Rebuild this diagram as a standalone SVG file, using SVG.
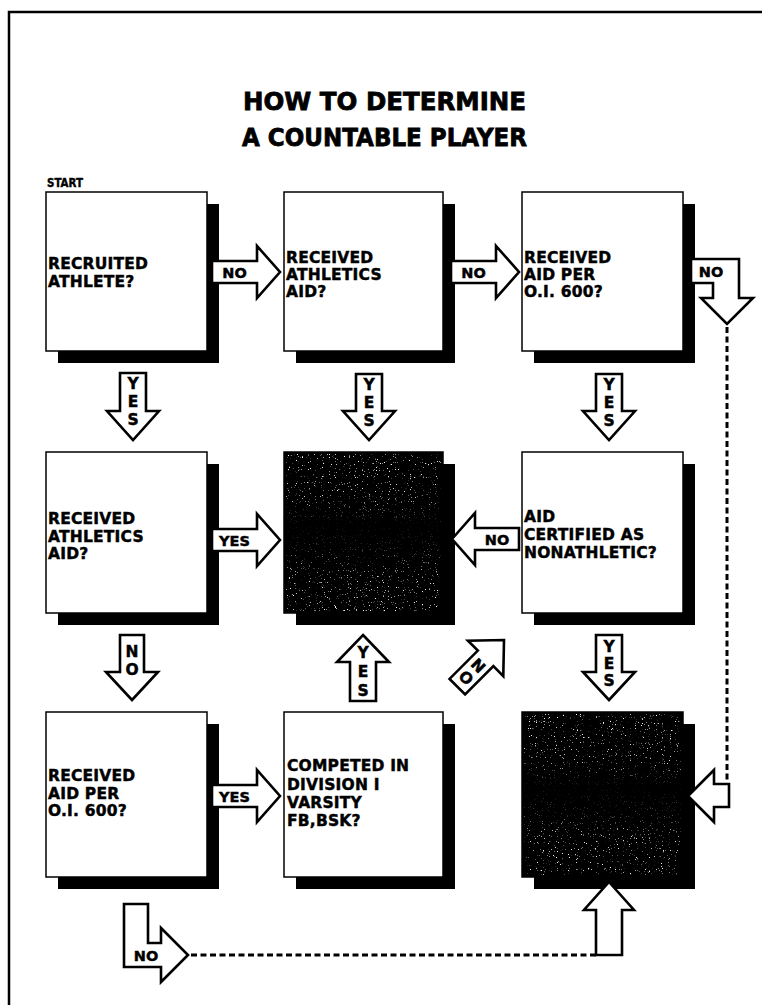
<svg xmlns="http://www.w3.org/2000/svg" width="762" height="1005" viewBox="0 0 762 1005">
<style>
  .t{font-family:"DejaVu Sans","Liberation Sans",sans-serif;font-weight:bold;fill:#000;stroke:#000;stroke-width:0.45}
  .title{font-size:25px;text-anchor:middle;stroke-width:0.8}
  .lbl{font-size:15.5px;letter-spacing:0.2px}
  .al{font-size:14.5px;text-anchor:middle}
  .vl{font-size:15.5px;text-anchor:middle}
  .box{fill:#fff;stroke:#000;stroke-width:1.5}
  .shadow{fill:#000}
  .dark{fill:#000;stroke:#000;stroke-width:1.5}
  .arrow{fill:#fff;stroke:#000;stroke-width:2.6;stroke-linejoin:miter}
  .dash{fill:none;stroke:#000;stroke-width:3;stroke-dasharray:6 3.5}
  .frame{fill:none;stroke:#000;stroke-width:2.5}
</style>
<defs>
  <filter id="speck" x="0" y="0" width="100%" height="100%" filterUnits="objectBoundingBox">
    <feTurbulence type="fractalNoise" baseFrequency="0.85" numOctaves="2" seed="7"/>
    <feColorMatrix type="matrix" values="0 0 0 0 1  0 0 0 0 1  0 0 0 0 1  9 0 0 0 -6.0"/>
  </filter>
  <linearGradient id="band" x1="0" y1="0" x2="0" y2="1">
    <stop offset="0" stop-color="#000" stop-opacity="0"/>
    <stop offset="0.3" stop-color="#000" stop-opacity="0.2"/>
    <stop offset="0.45" stop-color="#000" stop-opacity="0.95"/>
    <stop offset="0.6" stop-color="#000" stop-opacity="0.7"/>
    <stop offset="0.8" stop-color="#000" stop-opacity="0.1"/>
    <stop offset="1" stop-color="#000" stop-opacity="0"/>
  </linearGradient>
</defs>
<rect x="0" y="0" width="762" height="1005" fill="#fff"/>
<path class="frame" d="M9 1005 V12 H762"/>

<g id="title">
  <text class="t title" x="384.5" y="110" textLength="283" lengthAdjust="spacingAndGlyphs">HOW TO DETERMINE</text>
  <text class="t title" x="384.5" y="146" textLength="285" lengthAdjust="spacingAndGlyphs">A COUNTABLE PLAYER</text>
</g>
<g id="start">
  <text class="t" x="47" y="187" font-size="13" textLength="36" lengthAdjust="spacingAndGlyphs">START</text>
</g>

<g id="n1">
  <rect class="shadow" x="58" y="204" width="161" height="159"/>
  <rect class="box" x="46" y="192" width="161" height="159"/>
  <text class="t lbl" x="48" y="269">RECRUITED</text>
  <text class="t lbl" x="48" y="287">ATHLETE?</text>
</g>
<g id="n2">
  <rect class="shadow" x="296" y="204" width="159" height="159"/>
  <rect class="box" x="284" y="192" width="159" height="159"/>
  <text class="t lbl" x="286" y="263">RECEIVED</text>
  <text class="t lbl" x="286" y="280">ATHLETICS</text>
  <text class="t lbl" x="286" y="297">AID?</text>
</g>
<g id="n3">
  <rect class="shadow" x="534" y="204" width="161" height="159"/>
  <rect class="box" x="522" y="192" width="161" height="159"/>
  <text class="t lbl" x="524" y="263">RECEIVED</text>
  <text class="t lbl" x="524" y="280">AID PER</text>
  <text class="t lbl" x="524" y="297">O.I. 600?</text>
</g>
<g id="n4">
  <rect class="shadow" x="58" y="464" width="161" height="161"/>
  <rect class="box" x="46" y="452" width="161" height="161"/>
  <text class="t lbl" x="48" y="524">RECEIVED</text>
  <text class="t lbl" x="48" y="542">ATHLETICS</text>
  <text class="t lbl" x="48" y="559">AID?</text>
</g>
<g id="n5">
  <rect class="shadow" x="296" y="464" width="159" height="161"/>
  <rect class="dark" x="284" y="452" width="159" height="161"/>
  <rect x="286" y="454" width="155" height="157" filter="url(#speck)"/>
  <rect x="286" y="454" width="155" height="157" fill="url(#band)"/>
</g>
<g id="n6">
  <rect class="shadow" x="534" y="464" width="161" height="161"/>
  <rect class="box" x="522" y="452" width="161" height="161"/>
  <text class="t lbl" x="524" y="522">AID</text>
  <text class="t lbl" x="524" y="540">CERTIFIED AS</text>
  <text class="t lbl" x="524" y="558">NONATHLETIC?</text>
</g>
<g id="n7">
  <rect class="shadow" x="58" y="724" width="161" height="165"/>
  <rect class="box" x="46" y="712" width="161" height="165"/>
  <text class="t lbl" x="48" y="781">RECEIVED</text>
  <text class="t lbl" x="48" y="799">AID PER</text>
  <text class="t lbl" x="48" y="816">O.I. 600?</text>
</g>
<g id="n8">
  <rect class="shadow" x="296" y="724" width="159" height="165"/>
  <rect class="box" x="284" y="712" width="159" height="165"/>
  <text class="t lbl" x="287" y="771">COMPETED IN</text>
  <text class="t lbl" x="287" y="790">DIVISION I</text>
  <text class="t lbl" x="287" y="808">VARSITY</text>
  <text class="t lbl" x="287" y="826">FB,BSK?</text>
</g>
<g id="n9">
  <rect class="shadow" x="534" y="724" width="161" height="165"/>
  <rect class="dark" x="522" y="712" width="161" height="165"/>
  <rect x="524" y="714" width="157" height="161" filter="url(#speck)"/>
  <rect x="524" y="714" width="157" height="161" fill="url(#band)"/>
</g>

<g id="connectors">
  <g id="e1-2">
    <path class="arrow" d="M212 261 H257 V246 L280 272 L257 298 V283 H212 Z"/>
    <text class="t al" x="234.5" y="277.5">NO</text>
  </g>
  <g id="e2-3">
    <path class="arrow" d="M451 261 H496 V246 L519 272 L496 298 V283 H451 Z"/>
    <text class="t al" x="473.5" y="277.5">NO</text>
  </g>
  <g id="e1-4">
    <path class="arrow" d="M120 373 H146 V411 H159 L133 440 L107 411 H120 Z"/>
    <text class="t vl" x="133" y="389">Y</text>
    <text class="t vl" x="133" y="407">E</text>
    <text class="t vl" x="133" y="425">S</text>
  </g>
  <g id="e2-5">
    <path class="arrow" d="M356 374 H382 V411 H395 L369 440 L343 411 H356 Z"/>
    <text class="t vl" x="369" y="390">Y</text>
    <text class="t vl" x="369" y="408">E</text>
    <text class="t vl" x="369" y="426">S</text>
  </g>
  <g id="e3-6">
    <path class="arrow" d="M596 374 H622 V411 H635 L609 440 L583 411 H596 Z"/>
    <text class="t vl" x="609" y="390">Y</text>
    <text class="t vl" x="609" y="408">E</text>
    <text class="t vl" x="609" y="426">S</text>
  </g>
  <g id="e3-9">
    <path class="arrow" d="M691 259 H739 V298 H753 L727 324 L701 298 H713 V283 H691 Z"/>
    <text class="t al" x="711" y="276.5">NO</text>
    <path class="dash" d="M727 327 V783"/>
    <path class="arrow" d="M688 796 L714 770 V784 H729 V807 H714 V822 Z"/>
  </g>
  <g id="e4-5">
    <path class="arrow" d="M212 529 H257 V514 L280 540 L257 566 V551 H212 Z"/>
    <text class="t al" x="234.5" y="545.5">YES</text>
  </g>
  <g id="e6-5">
    <path class="arrow" d="M452 539 L475 513 V528 H519 V550 H475 V565 Z"/>
    <text class="t al" x="497" y="544.5">NO</text>
  </g>
  <g id="e4-7">
    <path class="arrow" d="M120 635 H144 V672 H158 L132 700 L106 672 H120 Z"/>
    <text class="t vl" x="132" y="657">N</text>
    <text class="t vl" x="132" y="675">O</text>
  </g>
  <g id="e8-5">
    <path class="arrow" d="M363 635 L389 662 H376 V701 H350 V662 H337 Z"/>
    <text class="t vl" x="363" y="658">Y</text>
    <text class="t vl" x="363" y="677">E</text>
    <text class="t vl" x="363" y="696">S</text>
  </g>
  <g id="e8-6" transform="translate(504,640) rotate(45)">
    <path class="arrow" d="M0 0 L25 26 H11 V66 H-11 V26 H-25 Z"/>
    <text class="t vl" x="0" y="42">N</text>
    <text class="t vl" x="0" y="59">O</text>
  </g>
  <g id="e6-9">
    <path class="arrow" d="M596 635 H622 V672 H635 L609 700 L583 672 H596 Z"/>
    <text class="t vl" x="609" y="652">Y</text>
    <text class="t vl" x="609" y="669">E</text>
    <text class="t vl" x="609" y="686">S</text>
  </g>
  <g id="e7-8">
    <path class="arrow" d="M212 785 H257 V770 L280 796 L257 822 V807 H212 Z"/>
    <text class="t al" x="234.5" y="801.5">YES</text>
  </g>
  <g id="e7-9">
    <path class="arrow" d="M124 904 H148 V943 H161 V928 L188 955 L161 982 V967 H124 Z"/>
    <text class="t al" x="146" y="961">NO</text>
    <path class="dash" d="M191 955 H596"/>
    <path class="arrow" d="M609 882 L634 910 H622 V955 H596 V910 H584 Z"/>
  </g>
</g>
</svg>
